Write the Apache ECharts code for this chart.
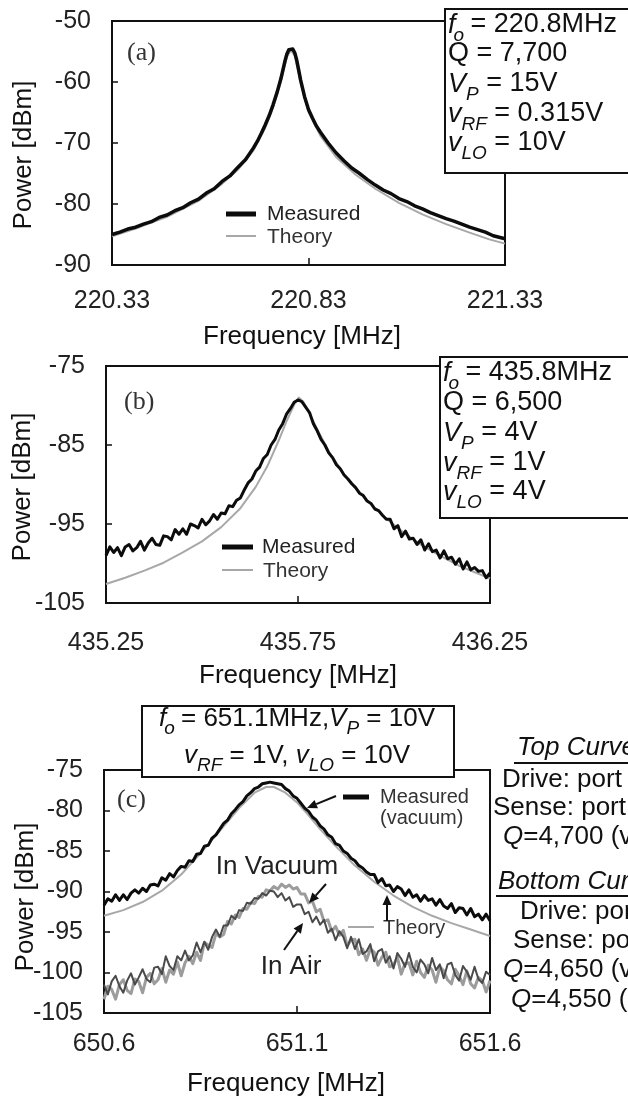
<!DOCTYPE html>
<html>
<head>
<meta charset="utf-8">
<script src="https://cdn.jsdelivr.net/npm/echarts@6/dist/echarts.min.js"></script>
<style>
  html, body { margin: 0; padding: 0; background: #fff; }
  #chart { width: 628px; height: 1099px; }
</style>
</head>
<body>
<div id="chart"></div>
<script>
// ---------- Panel (a): 220.8 MHz resonator ----------
const freqA = [220.33,220.35,220.37,220.39,220.41,220.43,220.45,220.47,220.49,220.51,
  220.53,220.55,220.57,220.59,220.61,220.63,220.65,220.67,220.69,220.70,
  220.71,220.72,220.73,220.74,220.75,220.76,220.77,220.775,220.78,220.785,
  220.79,220.795,220.80,220.805,220.81,220.82,220.83,220.84,220.85,220.86,
  220.88,220.90,220.92,220.94,220.96,220.98,221.00,221.02,221.04,221.06,
  221.08,221.10,221.12,221.14,221.16,221.18,221.20,221.22,221.24,221.26,
  221.28,221.30,221.33];
const measuredA = [-85.0,-84.6,-84.1,-83.8,-83.3,-82.9,-82.2,-81.8,-81.1,-80.6,
  -79.8,-79.2,-78.2,-77.5,-76.3,-75.4,-74.0,-72.7,-70.8,-69.7,
  -68.4,-67.0,-65.5,-63.7,-61.7,-59.4,-56.6,-55.4,-54.7,-54.4,
  -54.6,-55.2,-56.4,-58.0,-59.7,-62.4,-64.5,-65.9,-67.2,-68.2,
  -70.0,-71.6,-72.9,-74.1,-75.0,-76.0,-76.9,-77.7,-78.3,-79.1,
  -79.6,-80.3,-80.8,-81.4,-81.9,-82.4,-82.8,-83.3,-83.8,-84.2,
  -84.6,-85.2,-85.7];
const freqTheoryA = [220.33,220.40,220.47,220.55,220.61,220.65,220.69,220.72,220.74,220.76,
  220.775,220.785,220.795,220.81,220.83,220.86,220.90,220.95,221.00,221.06,
  221.12,221.18,221.24,221.29,221.33];
const theoryA = [-85.3,-83.8,-82.1,-79.5,-76.7,-74.4,-71.2,-67.5,-64.2,-59.9,
  -55.9,-54.8,-55.7,-60.2,-64.9,-68.8,-72.3,-75.2,-77.5,-79.8,
  -81.7,-83.3,-84.7,-85.8,-86.5];
const xTicksA = [220.33, 220.83, 221.33];
const yTicksA = [-90, -80, -70, -60, -50];

// ---------- Panel (b): 435.8 MHz resonator ----------
const freqB = [435.25,435.26,435.27,435.28,435.29,435.30,435.31,435.32,435.33,435.34,
  435.35,435.36,435.37,435.38,435.39,435.40,435.41,435.42,435.43,435.44,
  435.45,435.46,435.47,435.48,435.49,435.50,435.51,435.52,435.53,435.54,
  435.55,435.56,435.57,435.58,435.59,435.60,435.61,435.62,435.63,435.64,
  435.65,435.66,435.67,435.68,435.69,435.70,435.71,435.72,435.73,435.74,
  435.75,435.76,435.77,435.78,435.79,435.80,435.81,435.82,435.83,435.84,
  435.85,435.86,435.87,435.88,435.89,435.90,435.91,435.92,435.93,435.94,
  435.95,435.96,435.97,435.98,435.99,436.00,436.01,436.02,436.03,436.04,
  436.05,436.06,436.07,436.08,436.09,436.10,436.11,436.12,436.13,436.14,
  436.15,436.16,436.17,436.18,436.19,436.20,436.21,436.22,436.23,436.24,436.25];
const measuredB = [-99.0,-97.9,-98.6,-98.0,-99.0,-97.9,-97.6,-98.4,-98.0,-97.2,
  -98.3,-97.4,-96.8,-97.6,-97.7,-96.5,-96.6,-97.0,-95.7,-96.3,
  -95.6,-96.3,-95.0,-95.2,-95.5,-94.4,-95.1,-94.6,-93.8,-94.4,
  -93.6,-93.7,-92.7,-92.8,-92.0,-91.7,-90.7,-89.8,-89.3,-88.3,
  -87.8,-86.7,-86.2,-85.0,-84.3,-83.1,-82.3,-81.1,-80.4,-79.6,
  -79.3,-79.5,-80.2,-80.9,-82.3,-83.2,-84.3,-85.0,-86.0,-86.6,
  -87.5,-88.0,-88.8,-89.3,-89.9,-90.4,-91.1,-91.4,-92.1,-92.4,
  -93.1,-93.3,-93.9,-94.4,-94.4,-95.6,-95.2,-96.6,-95.9,-96.9,
  -96.8,-97.6,-97.0,-98.3,-97.5,-98.5,-98.3,-99.3,-98.4,-99.4,
  -99.2,-100.1,-99.4,-100.7,-99.8,-100.8,-100.5,-101.0,-100.9,-101.8,-101.2];
const freqTheoryB = [435.25,435.30,435.35,435.40,435.45,435.50,435.55,435.60,435.64,435.67,
  435.70,435.72,435.74,435.752,435.765,435.78,435.80,435.83,435.87,435.92,
  435.97,436.02,436.07,436.12,436.17,436.22,436.25];
const theoryB = [-102.6,-101.8,-100.9,-99.9,-98.6,-97.2,-95.4,-93.0,-90.3,-87.7,
  -84.4,-82.0,-79.9,-79.0,-79.6,-81.0,-83.0,-85.8,-88.7,-91.5,
  -93.9,-95.9,-97.6,-99.0,-100.3,-101.3,-101.9];
const xTicksB = [435.25, 435.75, 436.25];
const yTicksB = [-105, -95, -85, -75];

// ---------- Panel (c): 651.1 MHz resonator ----------
const freqC = [650.60,650.61,650.62,650.63,650.64,650.65,650.66,650.67,650.68,650.69,
  650.70,650.71,650.72,650.73,650.74,650.75,650.76,650.77,650.78,650.79,
  650.80,650.81,650.82,650.83,650.84,650.85,650.86,650.87,650.88,650.89,
  650.90,650.91,650.92,650.93,650.94,650.95,650.96,650.97,650.98,650.99,
  651.00,651.01,651.02,651.03,651.04,651.05,651.06,651.07,651.08,651.09,
  651.10,651.11,651.12,651.13,651.14,651.15,651.16,651.17,651.18,651.19,
  651.20,651.21,651.22,651.23,651.24,651.25,651.26,651.27,651.28,651.29,
  651.30,651.31,651.32,651.33,651.34,651.35,651.36,651.37,651.38,651.39,
  651.40,651.41,651.42,651.43,651.44,651.45,651.46,651.47,651.48,651.49,
  651.50,651.51,651.52,651.53,651.54,651.55,651.56,651.57,651.58,651.59,651.60];
const measuredC = [-91.7,-90.9,-91.2,-90.4,-91.1,-90.4,-91.0,-90.2,-89.8,-90.2,
  -89.6,-90.0,-89.2,-89.1,-89.3,-88.3,-88.6,-87.8,-88.2,-87.4,
  -86.9,-87.0,-86.2,-86.3,-85.4,-85.3,-84.4,-84.3,-83.4,-83.0,
  -82.3,-81.6,-81.2,-80.4,-79.9,-79.3,-78.9,-78.2,-77.8,-77.3,
  -77.1,-76.7,-76.6,-76.5,-76.6,-76.7,-76.8,-77.3,-77.6,-78.2,
  -78.5,-79.1,-79.7,-80.1,-80.8,-81.2,-81.9,-82.3,-83.0,-83.3,
  -84.1,-84.3,-85.0,-85.3,-85.9,-86.2,-86.8,-87.1,-87.6,-87.9,
  -87.9,-88.9,-88.4,-89.3,-89.2,-90.0,-89.4,-89.7,-90.5,-89.8,
  -90.7,-90.4,-91.2,-90.5,-91.1,-90.9,-91.7,-91.0,-91.8,-92.1,
  -91.5,-92.6,-92.0,-92.1,-92.9,-92.1,-93.1,-92.8,-93.5,-92.8,-93.6];
const vacuumC = [-103.3,-101.7,-102.1,-103.3,-101.5,-100.9,-102.2,-102.6,-100.8,-101.1,
  -102.5,-100.6,-100.1,-101.4,-100.9,-99.5,-101.2,-99.7,-100.2,-98.7,
  -100.4,-98.8,-98.0,-98.9,-97.5,-98.5,-96.3,-96.6,-96.9,-95.2,
  -95.6,-95.3,-93.7,-94.0,-92.9,-93.2,-92.1,-92.2,-91.4,-91.5,
  -90.6,-90.7,-89.8,-89.9,-89.4,-89.7,-89.1,-89.5,-89.2,-89.7,
  -89.5,-90.3,-90.3,-91.4,-91.2,-92.5,-92.2,-93.7,-93.5,-94.9,
  -94.3,-95.4,-94.8,-96.7,-96.0,-95.9,-97.8,-97.1,-98.5,-97.1,
  -97.5,-99.1,-98.1,-97.5,-99.3,-99.1,-98.1,-100.2,-98.9,-98.8,
  -100.3,-98.6,-100.0,-100.6,-99.1,-99.7,-101.2,-99.3,-99.8,-100.9,
  -101.4,-99.6,-100.4,-101.5,-99.8,-101.4,-101.9,-100.6,-101.0,-102.4,-101.0];
const airC = [-101.5,-102.7,-101.1,-100.4,-101.7,-102.5,-101.0,-100.1,-101.5,-100.6,
  -99.6,-100.8,-101.2,-99.4,-99.3,-100.2,-98.0,-99.2,-99.7,-98.0,
  -98.5,-97.3,-98.5,-97.9,-96.3,-97.5,-96.2,-97.2,-95.6,-94.7,
  -95.6,-94.2,-94.2,-93.0,-93.4,-92.3,-92.4,-91.4,-91.5,-90.8,
  -90.9,-90.2,-90.5,-89.9,-90.0,-90.7,-90.2,-91.1,-90.7,-91.9,
  -91.6,-91.6,-92.8,-92.5,-93.8,-93.1,-94.1,-93.5,-95.1,-94.6,
  -96.0,-94.9,-95.6,-97.0,-95.6,-97.1,-95.9,-97.7,-97.4,-96.5,
  -98.6,-97.4,-97.1,-98.8,-98.0,-99.5,-97.6,-98.3,-99.3,-97.6,
  -99.3,-100.0,-98.4,-99.0,-100.1,-98.2,-99.7,-99.0,-100.7,-99.0,
  -98.8,-100.3,-101.0,-99.2,-99.9,-100.9,-99.3,-100.8,-101.3,-99.9,-100.3];
const freqTheoryC = [650.60,650.65,650.70,650.75,650.80,650.85,650.90,650.95,650.99,651.02,
  651.04,651.07,651.10,651.13,651.16,651.20,651.25,651.30,651.35,651.40,
  651.45,651.50,651.55,651.60];
const theoryC = [-93.0,-92.3,-91.3,-89.9,-87.9,-85.3,-82.5,-79.7,-77.8,-77.1,
  -77.1,-77.8,-79.0,-80.6,-82.3,-84.4,-86.8,-88.8,-90.5,-91.9,
  -93.0,-93.9,-94.7,-95.5];
const xTicksC = [650.6, 651.1, 651.6];
const yTicksC = [-105, -100, -95, -90, -85, -80, -75];

// ---------- drawing ----------
const SANS = '"Liberation Sans", Arial, Helvetica, sans-serif';
const SERIF = '"Liberation Serif", "Times New Roman", serif';
const INK = '#111111';
const BLACK = '#0c0c0c';
const THEORY_GRAY = '#a8a8a8';

const zip = (xs, ys) => xs.map((x, i) => [x, ys[i]]);
const measureCtx = document.createElement('canvas').getContext('2d');
function textWidth(str, font) { measureCtx.font = font; return measureCtx.measureText(str).width; }

// A run of text pieces, some italic and some subscripted, laid out left to right.
function runPieces(parts, size) {
  const sub = Math.round(size * 0.72);
  return parts.map(p => {
    const fs = p.sub ? sub : size;
    const font = (p.it ? 'italic ' : '') + fs + 'px ' + SANS;
    return Object.assign({}, p, { font, w: textWidth(p.t, font) + (p.k || 0) });
  });
}
function richLine(x, y, parts, size, align) {
  const pieces = runPieces(parts, size);
  const total = pieces.reduce((s, p) => s + p.w, 0);
  let cx = align === 'center' ? x - total / 2 : x;
  return pieces.map(p => {
    const el = { type: 'text', style: { text: p.t, x: cx, y: y + (p.sub ? size * 0.38 : 0), font: p.font,
      fill: INK, textAlign: 'left', textVerticalAlign: 'middle' } };
    cx += p.w;
    return el;
  });
}
function txt(x, y, s, font, opts) {
  return { type: 'text', style: Object.assign({ text: s, x, y, font, fill: INK,
    textAlign: 'left', textVerticalAlign: 'middle' }, opts || {}) };
}
function seg(x1, y1, x2, y2, color, w) {
  return { type: 'line', shape: { x1, y1, x2, y2 }, style: { stroke: color, lineWidth: w } };
}
function arrow(x1, y1, x2, y2) {
  const a = Math.atan2(y2 - y1, x2 - x1), L = 10, W = 4.5;
  const bx = x2 - L * Math.cos(a), by = y2 - L * Math.sin(a);
  const px = -Math.sin(a) * W, py = Math.cos(a) * W;
  return [seg(x1, y1, bx, by, INK, 2),
    { type: 'polygon', shape: { points: [[x2, y2], [bx + px, by + py], [bx - px, by - py]] }, style: { fill: INK } }];
}
function box(x, y, w, h) {
  return { type: 'rect', shape: { x, y, width: w, height: h }, style: { fill: '#fff', stroke: INK, lineWidth: 2 } };
}
function paramBox(x, top, lineY, lines) {
  const els = [box(x, top.y, 300, top.h)];
  lines.forEach((ln, i) => els.push(...richLine(x + 3, lineY[i], ln, 27)));
  return els;
}
const F0 = v => [{ t: 'f', it: true, k: -2 }, { t: 'o', it: true, sub: true, k: -1 }, { t: ' = ' + v }];
const VP = v => [{ t: 'V', it: true }, { t: 'P', it: true, sub: true }, { t: ' = ' + v }];
const VRF = v => [{ t: 'v', it: true }, { t: 'RF', it: true, sub: true }, { t: ' = ' + v }];
const VLO = v => [{ t: 'v', it: true }, { t: 'LO', it: true, sub: true }, { t: ' = ' + v }];

const F26 = '26px ' + SANS, F21 = '21px ' + SANS, F20 = '20px ' + SANS;
const graphics = [];

// axis titles
[[24, 155], [23, 487], [26, 897]].forEach(([x, y]) =>
  graphics.push({ type: 'text', x, y, rotation: Math.PI / 2,
    style: { text: 'Power [dBm]', x: 0, y: 0, font: F26, fill: INK, textAlign: 'center', textVerticalAlign: 'middle' } }));
[[302, 337], [298, 676], [286, 1084]].forEach(([x, y]) =>
  graphics.push(txt(x, y, 'Frequency [MHz]', F26, { textAlign: 'center' })));

// panel tags
graphics.push(txt(127, 53, '(a)', '26px ' + SERIF, { fill: '#333' }));
graphics.push(txt(124, 402, '(b)', '26px ' + SERIF, { fill: '#333' }));
graphics.push(txt(117, 800, '(c)', '26px ' + SERIF, { fill: '#333' }));

// legends (a) and (b)
graphics.push(seg(226, 214, 256, 214, BLACK, 5), txt(267, 214, 'Measured', F21, { fill: '#222' }),
  seg(226, 236, 256, 236, THEORY_GRAY, 2), txt(267, 237, 'Theory', F21, { fill: '#333' }));
graphics.push(seg(222, 547, 253, 547, BLACK, 5), txt(262, 547, 'Measured', F21, { fill: '#222' }),
  seg(222, 570, 253, 570, THEORY_GRAY, 2), txt(263, 571, 'Theory', F21, { fill: '#333' }));

// parameter boxes
graphics.push(...paramBox(445, { y: 9, h: 164 }, [25, 54, 84, 114, 143],
  [F0('220.8MHz'), [{ t: 'Q' }, { t: ' = 7,700' }], VP('15V'), VRF('0.315V'), VLO('10V')]));
graphics.push(...paramBox(440, { y: 357, h: 161 }, [373, 403, 433, 463, 492],
  [F0('435.8MHz'), [{ t: 'Q' }, { t: ' = 6,500' }], VP('4V'), VRF('1V'), VLO('4V')]));
graphics.push(box(142, 706, 312, 71));
graphics.push(...richLine(297, 719, [{ t: 'f', it: true, k: -2 }, { t: 'o', it: true, sub: true, k: -1 },
  { t: ' = 651.1MHz,' }, { t: 'V', it: true }, { t: 'P', it: true, sub: true }, { t: ' = 10V' }], 26, 'center'));
graphics.push(...richLine(297, 756, [{ t: 'v', it: true }, { t: 'RF', it: true, sub: true }, { t: ' = 1V, ' },
  { t: 'v', it: true }, { t: 'LO', it: true, sub: true }, { t: ' = 10V' }], 26, 'center'));

// panel (c) annotations
graphics.push(seg(343, 797, 369, 797, BLACK, 5), txt(380, 797, 'Measured', F20, { fill: '#333' }),
  txt(380, 818, '(vacuum)', F20, { fill: '#333' }));
graphics.push(...arrow(336, 796, 307, 808));
graphics.push(txt(277, 867, 'In Vacuum', F26, { textAlign: 'center', fill: '#222' }));
graphics.push(...arrow(326, 884, 309, 903));
graphics.push(txt(291, 967, 'In Air', F26, { textAlign: 'center', fill: '#222' }));
graphics.push(...arrow(284, 950, 303, 923));
graphics.push(seg(348, 927, 374, 927, THEORY_GRAY, 2), txt(383, 928, 'Theory', F20, { fill: '#333' }));
graphics.push(...arrow(387, 921, 387, 895));

// port notes to the right of panel (c)
const IT26 = 'italic 26px ' + SANS;
graphics.push(txt(517, 748, 'Top Curve:', IT26), seg(514, 763, 640, 763, INK, 2));
graphics.push(txt(502, 780, 'Drive: port 1', F26), txt(493, 808, 'Sense: port 2', F26));
graphics.push(...richLine(503, 837, [{ t: 'Q', it: true }, { t: '=4,700 (vacuum)' }], 26));
graphics.push(txt(498, 882, 'Bottom Curve:', IT26), seg(496, 896, 640, 896, INK, 2));
graphics.push(txt(520, 912, 'Drive: port 3', F26), txt(513, 941, 'Sense: port 4', F26));
graphics.push(...richLine(503, 970, [{ t: 'Q', it: true }, { t: '=4,650 (vacuum)' }], 26));
graphics.push(...richLine(511, 1000, [{ t: 'Q', it: true }, { t: '=4,550 (air)' }], 26));

graphics.forEach(g => { g.z = 100; });

function xAxisFor(gi, ticks, digits, margin) {
  return { type: 'value', gridIndex: gi, min: ticks[0], max: ticks[ticks.length - 1],
    axisLine: { show: true, onZero: false, lineStyle: { color: INK, width: 2 } },
    axisTick: { show: true, inside: true, length: 7, customValues: ticks, lineStyle: { color: INK, width: 1.5 } },
    axisLabel: { customValues: ticks, fontSize: 25, fontFamily: SANS, color: '#222', margin,
      formatter: v => Number(v).toFixed(digits) },
    splitLine: { show: false } };
}
function yAxisFor(gi, ticks) {
  return { type: 'value', gridIndex: gi, min: ticks[0], max: ticks[ticks.length - 1],
    axisLine: { show: true, onZero: false, lineStyle: { color: INK, width: 2 } },
    axisTick: { show: true, inside: true, length: 6, customValues: ticks, lineStyle: { color: INK, width: 1.5 } },
    axisLabel: { customValues: ticks, fontSize: 25, fontFamily: SANS, color: '#222', margin: 21 },
    splitLine: { show: false } };
}
function line(gi, data, color, width, z) {
  return { type: 'line', xAxisIndex: gi, yAxisIndex: gi, data, showSymbol: false, symbol: 'none',
    lineStyle: { color, width, join: 'round' }, z, silent: true, animation: false };
}
const gridStyle = { show: true, borderColor: INK, borderWidth: 2, backgroundColor: 'transparent', containLabel: false };

const chart = echarts.init(document.getElementById('chart'), null, { renderer: 'canvas', width: 628, height: 1099 });
chart.setOption({
  backgroundColor: '#ffffff',
  animation: false,
  grid: [
    Object.assign({ left: 112, top: 21, width: 393, height: 244 }, gridStyle),
    Object.assign({ left: 106, top: 366, width: 384, height: 237 }, gridStyle),
    Object.assign({ left: 104, top: 770, width: 386, height: 243 }, gridStyle)
  ],
  xAxis: [xAxisFor(0, xTicksA, 2, 24), xAxisFor(1, xTicksB, 2, 28), xAxisFor(2, xTicksC, 1, 19)],
  yAxis: [yAxisFor(0, yTicksA), yAxisFor(1, yTicksB), yAxisFor(2, yTicksC)],
  series: [
    line(0, zip(freqTheoryA, theoryA), THEORY_GRAY, 2, 2),
    line(0, zip(freqA, measuredA), BLACK, 3.5, 3),
    line(1, zip(freqTheoryB, theoryB), THEORY_GRAY, 2, 2),
    line(1, zip(freqB, measuredB), BLACK, 3, 3),
    line(2, zip(freqTheoryC, theoryC), THEORY_GRAY, 2, 2),
    line(2, zip(freqC, measuredC), BLACK, 3, 3),
    line(2, zip(freqC, vacuumC), '#9c9c9c', 3, 3),
    line(2, zip(freqC, airC), '#4a4a4a', 2, 4)
  ],
  graphic: { elements: graphics }
});
</script>
</body>
</html>
